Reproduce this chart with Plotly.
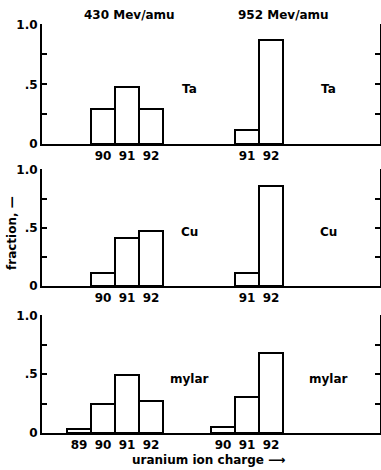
import plotly.graph_objects as go
from plotly.subplots import make_subplots

# ---- data ----
energies = ["430 Mev/amu", "952 Mev/amu"]
targets = ["Ta", "Cu", "mylar"]

# charge states per panel (430 group, 952 group)
ta_430_q = [90, 91, 92]
ta_430_f = [0.29, 0.48, 0.29]
ta_952_q = [91, 92]
ta_952_f = [0.12, 0.87]

cu_430_q = [90, 91, 92]
cu_430_f = [0.11, 0.41, 0.47]
cu_952_q = [91, 92]
cu_952_f = [0.11, 0.86]

my_430_q = [89, 90, 91, 92]
my_430_f = [0.035, 0.25, 0.49, 0.27]
my_952_q = [90, 91, 92]
my_952_f = [0.05, 0.31, 0.68]

panels = [
    (ta_430_q, ta_430_f, ta_952_q, ta_952_f),
    (cu_430_q, cu_430_f, cu_952_q, cu_952_f),
    (my_430_q, my_430_f, my_952_q, my_952_f),
]

y_tickvals = [0, 0.25, 0.5, 0.75, 1.0]
y_ticktext = ["0", "", ".5", "", "1.0"]

GROUP_SHIFT = 5  # second energy group drawn 5 units to the right
FONT = dict(family="DejaVu Sans", size=12, color="black", weight="bold")

fig = make_subplots(rows=3, cols=1)

W, H = 381.0, 470.0
L, R = 42, 1
PW = W - L - R
dom_px = [(24, 144), (169, 286), (315, 433)]

for i, (q1, f1, q2, f2) in enumerate(panels):
    r = i + 1
    xs = list(q1) + [q + GROUP_SHIFT for q in q2]
    ys = list(f1) + list(f2)
    fig.add_trace(go.Bar(x=xs, y=ys, width=1,
                         marker=dict(color="white", line=dict(color="black", width=2)),
                         showlegend=False, hoverinfo="skip"), row=r, col=1)
    ticktext = [str(q) for q in q1] + [str(q) for q in q2]
    axn = "" if r == 1 else str(r)
    top, bot = dom_px[i]
    fig.layout["yaxis" + axn].update(
        domain=[1 - bot / H, 1 - top / H], range=[0, 1.005],
        tickvals=y_tickvals, ticktext=y_ticktext,
        ticks="inside", ticklen=5, tickwidth=2, tickcolor="black",
        showline=True, linewidth=2, linecolor="black", mirror="ticks",
        showgrid=False, zeroline=False, automargin=False,
        tickfont=FONT)
    fig.layout["xaxis" + axn].update(
        domain=[0, 1], range=[87.46, 101.54],
        tickvals=xs, ticktext=ticktext, ticks="",
        showline=True, linewidth=2, linecolor="black", mirror=False,
        showgrid=False, zeroline=False, automargin=False,
        tickfont=FONT)
    # target labels
    for xpos in (93.6, 99.4):
        fig.add_annotation(x=xpos, y=0.46, xref="x" + axn, yref="y" + axn,
                           text=targets[i], showarrow=False, font=FONT,
                           xanchor="center", yanchor="middle")

# energy headers
fig.add_annotation(x=91.1, y=1 - 15 / H, xref="x", yref="paper",
                   text=energies[0], showarrow=False, font=FONT,
                   xanchor="center", yanchor="middle")
fig.add_annotation(x=97.5, y=1 - 15 / H, xref="x", yref="paper",
                   text=energies[1], showarrow=False, font=FONT,
                   xanchor="center", yanchor="middle")

# axis titles
fig.add_annotation(x=(208 - L) / PW, y=1 - 460 / H, xref="paper", yref="paper",
                   text="uranium ion charge ⟶", showarrow=False, font=FONT,
                   xanchor="center", yanchor="middle")
fig.add_annotation(x=(12 - L) / PW, y=1 - 233 / H, xref="paper", yref="paper",
                   text="fraction, —", textangle=-90, showarrow=False, font=FONT,
                   xanchor="center", yanchor="middle")

fig.update_layout(width=381, height=470, bargap=0,
                  margin=dict(l=L, r=R, t=0, b=0, pad=0, autoexpand=False),
                  paper_bgcolor="white", plot_bgcolor="white")

fig.write_html("out.html",
               config={"displayModeBar": False},
               post_script="document.body.style.margin='0';"
                           "document.body.style.overflow='hidden';")
